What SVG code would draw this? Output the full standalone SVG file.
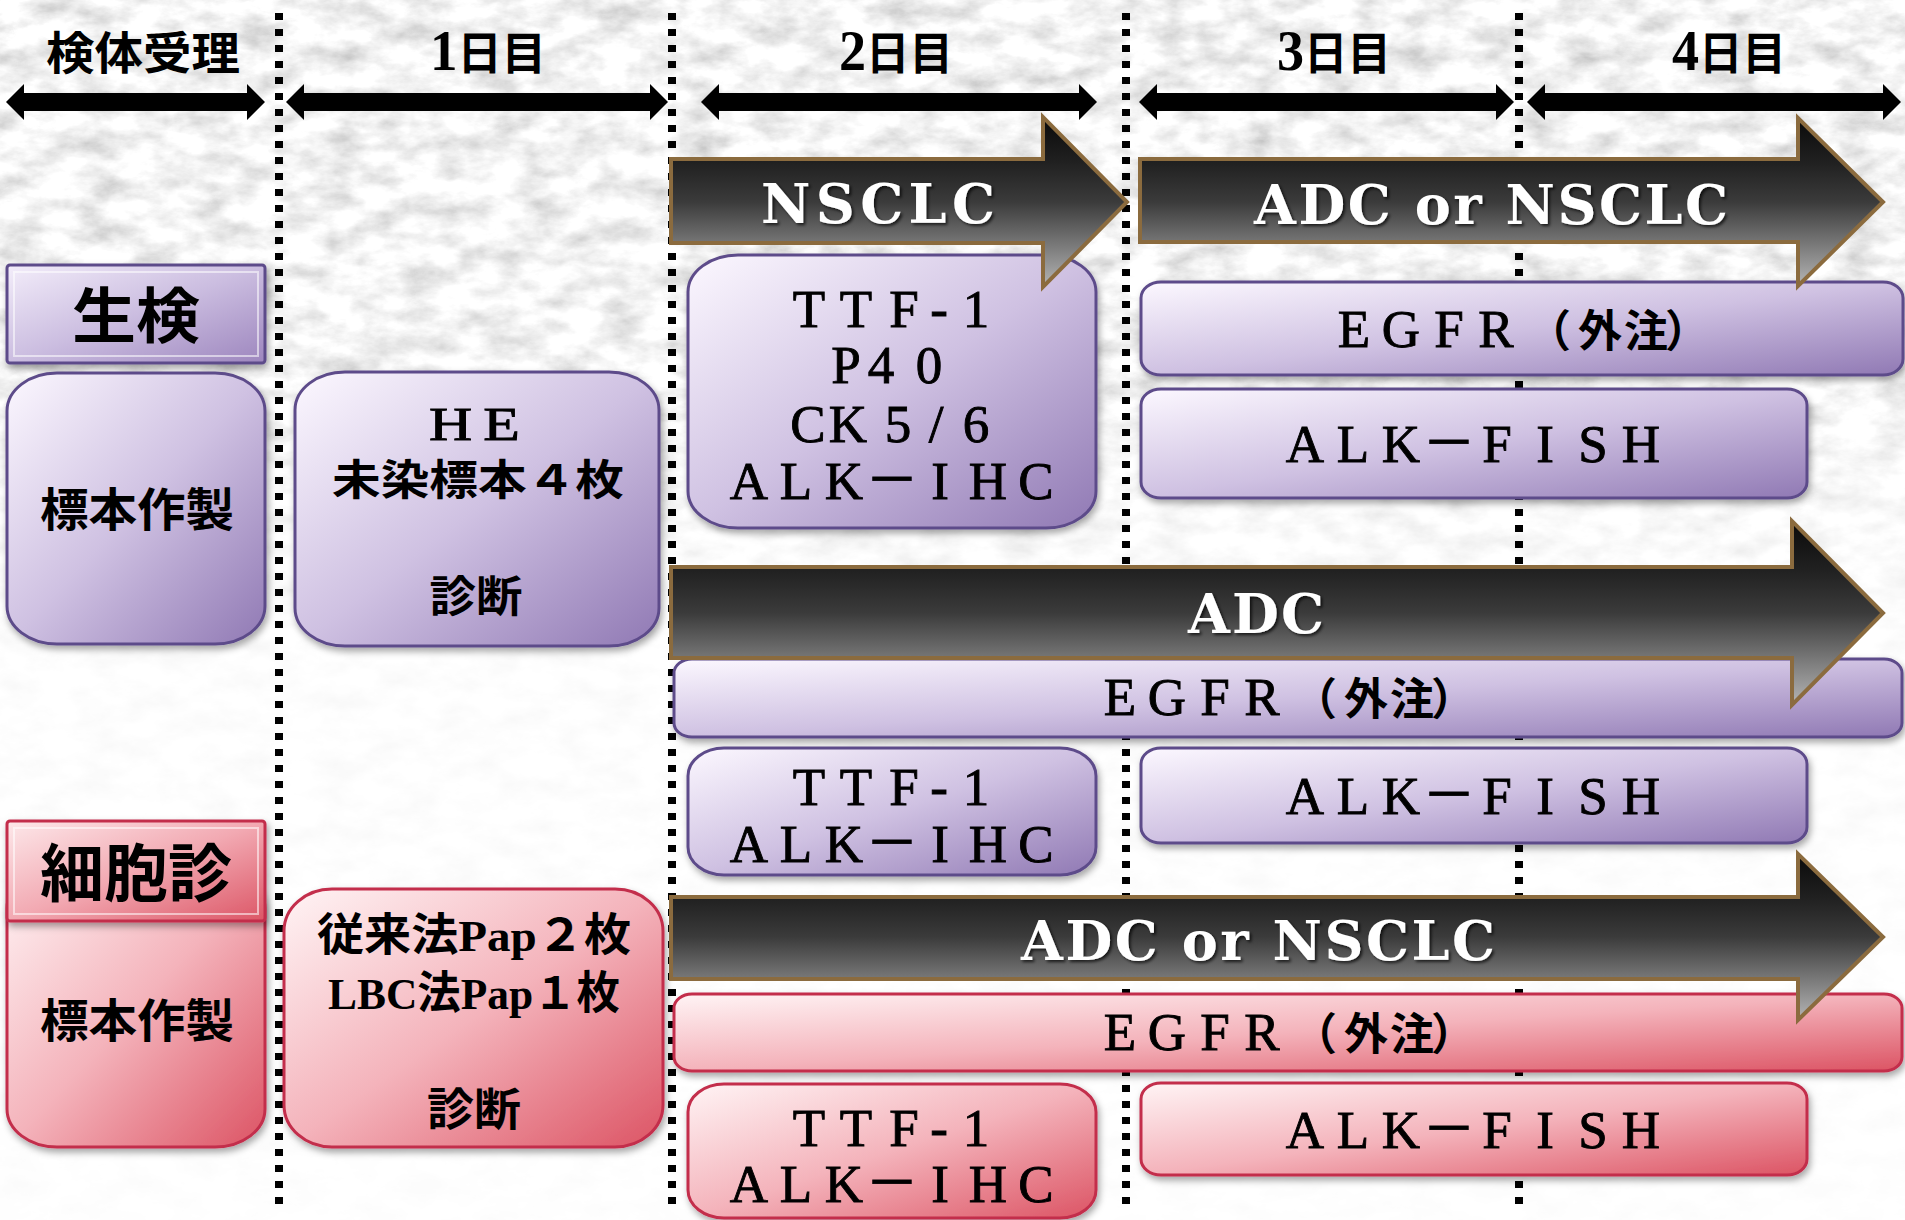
<svg xmlns="http://www.w3.org/2000/svg" width="1905" height="1220" viewBox="0 0 1905 1220">
<defs>
<style>
text{text-anchor:middle;}
.cj{font-family:"Noto Sans CJK JP","Noto Sans CJK SC",sans-serif;fill:#000;}
.mx{font-family:"Liberation Serif","Noto Sans CJK JP",serif;fill:#000;}
.lt{font-family:"Liberation Serif","Noto Sans CJK JP",serif;font-size:53px;fill:#000;stroke:#000;stroke-width:0.9;}
.b{font-weight:700;}
.arr{font-family:"DejaVu Serif","Liberation Serif",serif;font-weight:700;font-size:54px;fill:#fff;filter:url(#tsh);}
.pb{fill:url(#gP);stroke:#5d4b8a;stroke-width:3;filter:url(#sh);}
.kb{fill:url(#gK);stroke:#c32d4b;stroke-width:3;filter:url(#sh);}
.ph{fill:url(#gPH);stroke:#5d4b8a;stroke-width:3;filter:url(#sh);}
.kh{fill:url(#gKH);stroke:#c32d4b;stroke-width:3;filter:url(#sh);}
.bev{fill:none;stroke:#fff;stroke-opacity:.55;stroke-width:2;}
.dk{fill:url(#gD);stroke:#8b6b3e;stroke-width:4;}
.dot{stroke:#000;stroke-width:8;stroke-dasharray:7 9;fill:none;}
.span{fill:#000;}
</style>
<linearGradient id="gP" x1="0" y1="0" x2="1" y2="1"><stop offset="0" stop-color="#fcf8ff"/><stop offset="0.5" stop-color="#cfc1e2"/><stop offset="1" stop-color="#9079b4"/></linearGradient>
<linearGradient id="gK" x1="0" y1="0" x2="1" y2="1"><stop offset="0" stop-color="#fff4f5"/><stop offset="0.5" stop-color="#f4b3bb"/><stop offset="1" stop-color="#dc5464"/></linearGradient>
<linearGradient id="gPH" x1="0" y1="0" x2="1" y2="1"><stop offset="0" stop-color="#f3edfa"/><stop offset="0.5" stop-color="#cbbde0"/><stop offset="1" stop-color="#9d86be"/></linearGradient>
<linearGradient id="gKH" x1="0" y1="0" x2="1" y2="1"><stop offset="0" stop-color="#fde8ea"/><stop offset="0.5" stop-color="#f2a9b2"/><stop offset="1" stop-color="#dc5666"/></linearGradient>
<linearGradient id="gD" x1="0" y1="0" x2="0" y2="1"><stop offset="0" stop-color="#0a0a0a"/><stop offset="0.27" stop-color="#212121"/><stop offset="0.5" stop-color="#3b3b3b"/><stop offset="0.75" stop-color="#787878"/><stop offset="1" stop-color="#b5b5b5"/></linearGradient>
<linearGradient id="fadeG" x1="0" y1="0" x2="0" y2="1"><stop offset="0" stop-color="#fff"/><stop offset="0.3" stop-color="#d8d8d8"/><stop offset="0.42" stop-color="#666"/><stop offset="0.55" stop-color="#222"/><stop offset="1" stop-color="#111"/></linearGradient>
<mask id="fade" maskUnits="userSpaceOnUse" x="0" y="0" width="1905" height="1220"><rect width="1905" height="1220" fill="url(#fadeG)"/></mask>
<filter id="tex" filterUnits="userSpaceOnUse" x="0" y="0" width="1905" height="1220">
<feTurbulence type="fractalNoise" baseFrequency="0.025 0.045" numOctaves="5" seed="11"/>
<feColorMatrix type="matrix" values="0.8 0 0 0 0.5  0.8 0 0 0 0.5  0.8 0 0 0 0.5  0 0 0 0 1"/>
</filter>
<filter id="sh" x="-5%" y="-10%" width="112%" height="130%"><feDropShadow dx="2" dy="4" stdDeviation="3.5" flood-color="#000" flood-opacity="0.35"/></filter>
<filter id="tsh" x="-5%" y="-20%" width="115%" height="150%"><feDropShadow dx="2" dy="2" stdDeviation="1.5" flood-color="#000" flood-opacity="0.7"/></filter>
</defs>

<g id="background">
<rect width="1905" height="1220" fill="#fff"/>
<rect width="1905" height="1220" filter="url(#tex)" mask="url(#fade)"/>
</g>

<g id="connectors">
<line class="dot" x1="279" y1="13" x2="279" y2="1206"/>
<line class="dot" x1="672" y1="13" x2="672" y2="1206"/>
<line class="dot" x1="1126" y1="13" x2="1126" y2="1208"/>
<line class="dot" x1="1519" y1="13" x2="1519" y2="1204"/>
<polygon class="span" points="6,102 24,84 24,93 247,93 247,84 265,102 247,120 247,111 24,111 24,120"/>
<polygon class="span" points="286,102 304,84 304,93 650,93 650,84 668,102 650,120 650,111 304,111 304,120"/>
<polygon class="span" points="701,102 719,84 719,93 1079,93 1079,84 1097,102 1079,120 1079,111 719,111 719,120"/>
<polygon class="span" points="1139,102 1157,84 1157,93 1496,93 1496,84 1514,102 1496,120 1496,111 1157,111 1157,120"/>
<polygon class="span" points="1527,102 1545,84 1545,93 1883,93 1883,84 1901,102 1883,120 1883,111 1545,111 1545,120"/>
</g>

<g id="day-labels">
<text class="cj b" x="143" y="70" style="font-size:45px" textLength="194" lengthAdjust="spacingAndGlyphs">検体受理</text>
<text class="mx b" x="488" y="70" style="font-size:45px" textLength="116" lengthAdjust="spacingAndGlyphs"><tspan font-size="56">1</tspan>日目</text>
<text class="mx b" x="896" y="70" style="font-size:45px" textLength="114" lengthAdjust="spacingAndGlyphs"><tspan font-size="56">2</tspan>日目</text>
<text class="mx b" x="1334" y="70" style="font-size:45px" textLength="114" lengthAdjust="spacingAndGlyphs"><tspan font-size="56">3</tspan>日目</text>
<text class="mx b" x="1729" y="70" style="font-size:45px" textLength="114" lengthAdjust="spacingAndGlyphs"><tspan font-size="56">4</tspan>日目</text>
</g>

<g id="biopsy-header">
<rect class="ph" x="7" y="265" width="258" height="98" rx="3"/>
<rect class="bev" x="14" y="272" width="244" height="84"/>
<text class="cj b" x="136" y="338" style="font-size:60px" textLength="128" lengthAdjust="spacingAndGlyphs">生検</text>
</g>

<g id="biopsy-prep">
<rect class="pb" x="7" y="373" width="258" height="271" rx="50" ry="38"/>
<text class="cj b" x="137" y="526" style="font-size:46px" textLength="194" lengthAdjust="spacingAndGlyphs">標本作製</text>
</g>

<g id="biopsy-day1">
<rect class="pb" x="295" y="372" width="364" height="274" rx="50" ry="38"/>
<text class="lt" transform="translate(476 440) scale(1.3 1)" x="-19.6 19.6" y="0" style="font-size:46px">HE</text>
<text class="cj b" x="478" y="495" style="font-size:42px" textLength="292" lengthAdjust="spacingAndGlyphs">未染標本４枚</text>
<text class="cj b" x="476" y="612" style="font-size:43px" textLength="93" lengthAdjust="spacingAndGlyphs">診断</text>
</g>

<g id="biopsy-ihc-nsclc">
<rect class="pb" x="688" y="255" width="408" height="273" rx="50" ry="37"/>
<text class="lt" x="809 856 904 939 976" y="327">TTF-1</text>
<text class="lt" x="846 881 929" y="383">P40</text>
<text class="lt" x="808 848 898 936 976" y="442">CK5/6</text>
<text class="lt" x="749 796 844 892 940 988 1036" y="499">ALK－IHC</text>
</g>

<g id="biopsy-egfr-nsclc">
<rect class="pb" x="1141" y="282" width="762" height="93" rx="20" ry="16"/>
<text class="lt" y="347"><tspan x="1354 1401 1449 1496">EGFR</tspan><tspan x="1549 1600 1646 1687" font-size="44" font-weight="700" stroke-width="0">（外注）</tspan></text>
</g>

<g id="biopsy-fish-nsclc">
<rect class="pb" x="1141" y="389" width="666" height="109" rx="20" ry="16"/>
<text class="lt" x="1305 1353 1401 1449 1497 1545 1593 1641" y="462">ALK－FISH</text>
</g>

<g id="biopsy-egfr-adc">
<rect class="pb" x="674" y="659" width="1228" height="78" rx="18" ry="14"/>
<text class="lt" y="715"><tspan x="1120 1167 1215 1262">EGFR</tspan><tspan x="1315 1366 1412 1453" font-size="44" font-weight="700" stroke-width="0">（外注）</tspan></text>
</g>

<g id="biopsy-ihc-adc">
<rect class="pb" x="688" y="748" width="408" height="127" rx="36" ry="28"/>
<text class="lt" x="809 856 904 939 976" y="805">TTF-1</text>
<text class="lt" x="749 796 844 892 940 988 1036" y="862">ALK－IHC</text>
</g>

<g id="biopsy-fish-adc">
<rect class="pb" x="1141" y="748" width="666" height="95" rx="20" ry="16"/>
<text class="lt" x="1305 1353 1401 1449 1497 1545 1593 1641" y="814">ALK－FISH</text>
</g>

<g id="cyto-prep">
<rect class="kb" x="7" y="870" width="258" height="277" rx="50" ry="38"/>
<text class="cj b" x="137" y="1037" style="font-size:46px" textLength="194" lengthAdjust="spacingAndGlyphs">標本作製</text>
</g>

<g id="cyto-header">
<rect class="kh" x="7" y="821" width="258" height="100" rx="3"/>
<rect class="bev" x="14" y="828" width="244" height="86"/>
<text class="cj b" x="136" y="896" style="font-size:63px" textLength="192" lengthAdjust="spacingAndGlyphs">細胞診</text>
</g>

<g id="cyto-day1">
<rect class="kb" x="284" y="889" width="379" height="258" rx="48" ry="42"/>
<text class="mx b" x="474" y="951" style="font-size:45px" textLength="314" lengthAdjust="spacingAndGlyphs">従来法Pap２枚</text>
<text class="mx b" x="474" y="1009" style="font-size:45px" textLength="292" lengthAdjust="spacingAndGlyphs">LBC法Pap１枚</text>
<text class="cj b" x="474" y="1126" style="font-size:45px" textLength="94" lengthAdjust="spacingAndGlyphs">診断</text>
</g>

<g id="cyto-egfr">
<rect class="kb" x="674" y="994" width="1228" height="77" rx="18" ry="14"/>
<text class="lt" y="1050"><tspan x="1120 1167 1215 1262">EGFR</tspan><tspan x="1315 1366 1412 1453" font-size="44" font-weight="700" stroke-width="0">（外注）</tspan></text>
</g>

<g id="cyto-ihc">
<rect class="kb" x="688" y="1084" width="408" height="134" rx="36" ry="28"/>
<text class="lt" x="809 856 904 939 976" y="1146">TTF-1</text>
<text class="lt" x="749 796 844 892 940 988 1036" y="1202">ALK－IHC</text>
</g>

<g id="cyto-fish">
<rect class="kb" x="1141" y="1083" width="666" height="92" rx="20" ry="16"/>
<text class="lt" x="1305 1353 1401 1449 1497 1545 1593 1641" y="1148">ALK－FISH</text>
</g>

<g id="arrow-nsclc">
<polygon class="dk" points="671,159 1043,159 1043,117 1127,202 1043,287 1043,243 671,243"/>
<text class="arr" x="878" y="223" textLength="234" lengthAdjust="spacing">NSCLC</text>
</g>

<g id="arrow-adc-or-nsclc-top">
<polygon class="dk" points="1140,159 1798,159 1798,118 1883,202 1798,286 1798,242 1140,242"/>
<text class="arr" x="1491" y="224" textLength="474" lengthAdjust="spacing">ADC or NSCLC</text>
</g>

<g id="arrow-adc">
<polygon class="dk" points="671,567 1792,567 1792,521 1883,613 1792,705 1792,658 671,658"/>
<text class="arr" x="1256" y="633" textLength="136" lengthAdjust="spacing">ADC</text>
</g>

<g id="arrow-adc-or-nsclc-bottom">
<polygon class="dk" points="671,897 1798,897 1798,854 1883,937 1798,1020 1798,979 671,979"/>
<text class="arr" x="1258" y="960" textLength="474" lengthAdjust="spacing">ADC or NSCLC</text>
</g>
</svg>
